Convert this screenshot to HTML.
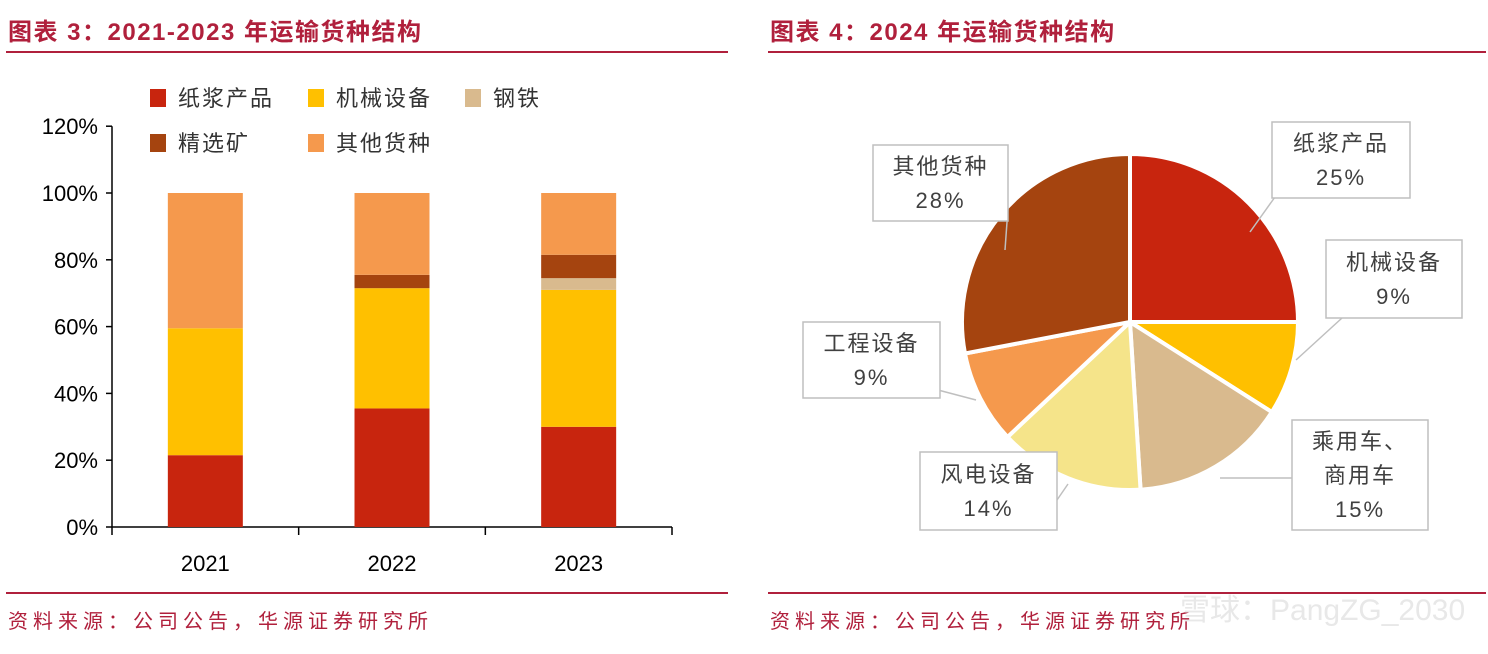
<!DOCTYPE html>
<html><head><meta charset="utf-8">
<style>
body{margin:0;background:#fff;width:1488px;height:654px;overflow:hidden;font-family:"Liberation Sans","Noto Sans CJK SC",sans-serif}
svg{display:block}
</style></head>
<body>
<svg id="s" width="1488" height="654" xmlns="http://www.w3.org/2000/svg">
<g font-family="Liberation Sans, Noto Sans CJK SC, sans-serif">
<text x="8" y="40" font-size="24" font-weight="bold" fill="#B0203C" letter-spacing="1.5">图表 3：2021-2023 年运输货种结构</text>
<line x1="6" y1="52" x2="728" y2="52" stroke="#B0203C" stroke-width="2"/>
<text x="770" y="40" font-size="24" font-weight="bold" fill="#B0203C" letter-spacing="1.5">图表 4：2024 年运输货种结构</text>
<line x1="768" y1="52" x2="1486" y2="52" stroke="#B0203C" stroke-width="2"/>
<line x1="6" y1="593" x2="728" y2="593" stroke="#B0203C" stroke-width="2"/>
<line x1="768" y1="593" x2="1486" y2="593" stroke="#B0203C" stroke-width="2"/>
<text x="8" y="628" font-size="20" fill="#B0203C" letter-spacing="5">资料来源：公司公告，华源证券研究所</text>
<text x="770" y="628" font-size="20" fill="#B0203C" letter-spacing="5">资料来源：公司公告，华源证券研究所</text>
<text x="1180" y="620" font-size="30" fill="#e8e8e8">雪球：PangZG_2030</text>
</g>
<g id="bar"></g>
<g id="pie"></g>
</svg>
<script>
const years=["2021","2022","2023"];
const seriesNames=["纸浆产品","机械设备","钢铁","精选矿","其他货种"];
const pulp=[21.5,35.5,30];
const machinery=[38,36,41];
const steel=[0,0,3.5];
const ore=[0,4,7];
const other=[40.5,24.5,18.5];
const yTicks=[0,20,40,60,80,100,120];
const pieLabels=["纸浆产品","机械设备","乘用车、商用车","风电设备","工程设备","其他货种"];
const pieValues=[25,9,15,14,9,28];

const NS="http://www.w3.org/2000/svg";
function mk(t,a,p){const e=document.createElementNS(NS,t);for(const k in a)e.setAttribute(k,a[k]);p.appendChild(e);return e;}
const colors=["#C8250E","#FFC000","#D9BA8E","#A5440F","#F5994D"];
const bar=document.getElementById('bar');
const y0=527,x0=112,x1=672;
const ys=v=>y0-v*(y0-193)/100;
const band=(x1-x0)/years.length;
const xc=i=>x0+band*(i+0.5);
let ax=mk('line',{x1:x0,y1:ys(120),x2:x0,y2:y0,stroke:'#000','stroke-width':1.5},bar);


let bx=mk('line',{x1:x0,y1:y0,x2:x1,y2:y0,stroke:'#000','stroke-width':1.5},bar);


yTicks.forEach(t=>{
  const tk=mk('line',{x1:x0-6,y1:ys(t),x2:x0,y2:ys(t),stroke:'#000','stroke-width':1.5},bar);
  
  
  const tl=mk('text',{x:x0-14,y:ys(t)+8,'text-anchor':'end','font-size':22,fill:'#000','font-family':'Liberation Sans, sans-serif'},bar);
  tl.textContent=t+'%';
  
  
});
for(let i=0;i<=years.length;i++){
  const tk=mk('line',{x1:x0+band*i,y1:y0,x2:x0+band*i,y2:y0+8,stroke:'#000','stroke-width':1.5},bar);
  
  
}
const all=[pulp,machinery,steel,ore,other];
years.forEach((yr,i)=>{
  let acc=0;
  all.forEach((s,j)=>{
    const v=s[i];
    if(v>0){
      const r=mk('rect',{x:xc(i)-37.5,y:ys(acc+v),width:75,height:ys(acc)-ys(acc+v),fill:colors[j]},bar);
      
      
    }
    acc+=v;
  });
  const l=mk('text',{x:xc(i),y:571,'text-anchor':'middle','font-size':22,fill:'#000','font-family':'Liberation Sans, sans-serif'},bar);
  l.textContent=yr;
  
  
});
const legPos=[[150,98],[308,98],[465,98],[150,143],[308,143]];
seriesNames.forEach((n,j)=>{
  const g=mk('g',{},bar);
  
  
  mk('rect',{x:legPos[j][0],y:legPos[j][1]-9,width:16,height:18,fill:colors[j]},g);
  const t=mk('text',{x:legPos[j][0]+28,y:legPos[j][1]+8,'font-size':22,fill:'#333','font-family':'Liberation Sans, Noto Sans CJK SC, sans-serif','letter-spacing':2},g);
  t.textContent=n;
});
const pie=document.getElementById('pie');
const pc=["#C8250E","#FFC000","#D9BA8E","#F5E48A","#F5994D","#A5440F"];
const cx=1130,cy=322,R=168;
const tot=pieValues.reduce((a,b)=>a+b,0);
let a=0;
pieValues.forEach((v,i)=>{
  const a0=a,a1=a+v/tot*2*Math.PI;a=a1;
  const p=(t)=>[cx+R*Math.sin(t),cy-R*Math.cos(t)];
  const [sx,sy]=p(a0),[ex,ey]=p(a1);
  const s=mk('path',{d:`M${cx},${cy}L${sx},${sy}A${R},${R} 0 ${a1-a0>Math.PI?1:0} 1 ${ex},${ey}Z`,fill:pc[i],stroke:'#fff','stroke-width':4,'stroke-linejoin':'round'},pie);
  
  
});
const boxes=[[1272,122,138,76,[1280,190,1250,232]],[1326,240,136,78,[1342,318,1296,360]],[1292,420,136,110,[1295,478,1220,478]],[920,452,137,78,[1057,500,1068,484]],[803,322,137,76,[938,390,976,400]],[873,145,135,76,[1008,208,1005,250]]];
pieLabels.forEach((n,i)=>{
  const [bx2,by,bw,bh,ln]=boxes[i];
  const g=mk('g',{},pie);
  
  
  mk('line',{x1:ln[0],y1:ln[1],x2:ln[2],y2:ln[3],stroke:'#bfbfbf','stroke-width':1.5},g);
  mk('rect',{x:bx2,y:by,width:bw,height:bh,fill:'#fff',stroke:'#bfbfbf','stroke-width':1.5},g);
  const parts=n.includes('、')?['乘用车、','商用车']:[n];
  const lines=[...parts,pieValues[i]+'%'];
  const lh=34,start=by+bh/2-(lines.length-1)*lh/2+8;
  lines.forEach((L,k)=>{
    const t=mk('text',{x:bx2+bw/2,y:start+k*lh,'text-anchor':'middle','font-size':22,fill:'#404040','letter-spacing':2,'font-family':'Liberation Sans, Noto Sans CJK SC, sans-serif'},g);
    t.textContent=L;
  });
});
</script>
</body></html>
